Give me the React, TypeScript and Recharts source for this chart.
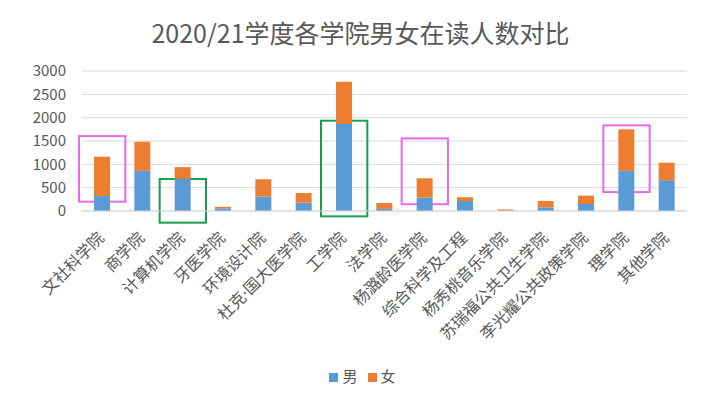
import React from 'react';
import { BarChart, Bar, XAxis, YAxis, CartesianGrid, Legend, ReferenceArea } from 'recharts';

const schools = [
  '文社科学院', '商学院', '计算机学院', '牙医学院', '环境设计院', '杜克·国大医学院', '工学院', '法学院',
  '杨潞龄医学院', '综合科学及工程', '杨秀桃音乐学院', '苏瑞福公共卫生学院', '李光耀公共政策学院', '理学院', '其他学院',
];
const male = [320, 860, 690, 55, 310, 180, 1865, 45, 290, 215, 10, 80, 150, 860, 660];
const female = [845, 625, 250, 35, 370, 205, 905, 125, 410, 80, 25, 135, 180, 890, 375];
const yTicks = [0, 500, 1000, 1500, 2000, 2500, 3000];
const title = '2020/21学度各学院男女在读人数对比';
const maleLabel = '男';
const femaleLabel = '女';

const highlightSchools = ['文社科学院', '计算机学院', '工学院', '杨潞龄医学院', '理学院'];
const highlightLow = [200, -250, -115, 145, 405];
const highlightHigh = [1605, 685, 1935, 1555, 1835];
const highlightKind = ['pink', 'green', 'green', 'pink', 'pink'];

const data = schools.map((s, i) => ({ school: s, male: male[i], female: female[i] }));

const FONT = '"Noto Sans CJK SC", "Noto Sans", sans-serif';
const TICK_FONT = '"Noto Sans", "Noto Sans CJK SC", sans-serif';
const TEXT = '#595959';

const SchoolTick = (props: any) => {
  const { x, y, payload } = props;
  const ax = x + 3;
  const ay = y + 28;
  return (
    <text x={ax} y={ay} transform={`rotate(-45 ${ax} ${ay})`} textAnchor="end" fill={TEXT} fontSize={16} fontFamily={TICK_FONT}>
      {payload.value}
    </text>
  );
};

const BoxShape = (props: any) => {
  const { x, y, width, height, stroke } = props;
  const pad = 3;
  return <rect x={x - pad} y={y} width={width + pad * 2} height={height} fill="none" stroke={stroke} strokeWidth={2} />;
};

export default function App() {
  return (
    <div style={{ position: 'absolute', left: 0, top: 0, width: 705, height: 394, background: '#fff' }}>
      <div style={{ position: 'absolute', left: 8, top: 14, width: 705, textAlign: 'center', fontFamily: FONT, fontSize: 25, color: TEXT, lineHeight: '36px' }}>
        {title}
      </div>
      <BarChart width={705} height={394} data={data} margin={{ top: 71, right: 18, bottom: 4, left: 0 }} barSize={16}>
        <CartesianGrid vertical={false} stroke="#d9d9d9" />
        <XAxis dataKey="school" interval={0} tick={<SchoolTick />} tickLine={false} tickSize={0} tickMargin={0} height={154} axisLine={{ stroke: '#d9d9d9' }} />
        <YAxis width={82} domain={[0, 3000]} ticks={yTicks} axisLine={false} tickLine={false} tickSize={6} tickMargin={10} tick={{ fill: TEXT, fontSize: 15, fontFamily: FONT }} />
        <Bar dataKey="male" name={maleLabel} stackId="a" fill="#5B9BD5" isAnimationActive={false} />
        <Bar dataKey="female" name={femaleLabel} stackId="a" fill="#ED7D31" isAnimationActive={false} />
        {highlightSchools.map((s, i) => (
          <ReferenceArea key={s} x1={s} x2={s} y1={highlightLow[i]} y2={highlightHigh[i]} ifOverflow="visible"
            stroke={highlightKind[i] === 'pink' ? '#E46BEA' : '#16A04E'} shape={<BoxShape />} />
        ))}
        <Legend iconType="square" iconSize={9}
          itemSorter={(item: any) => (item.dataKey === 'male' ? 0 : 1)}
          wrapperStyle={{ fontFamily: FONT, fontSize: 15, color: TEXT, height: 25, paddingLeft: 24 }}
          formatter={(v: string) => <span style={{ color: TEXT }}>{v}</span>} />
      </BarChart>
    </div>
  );
}
